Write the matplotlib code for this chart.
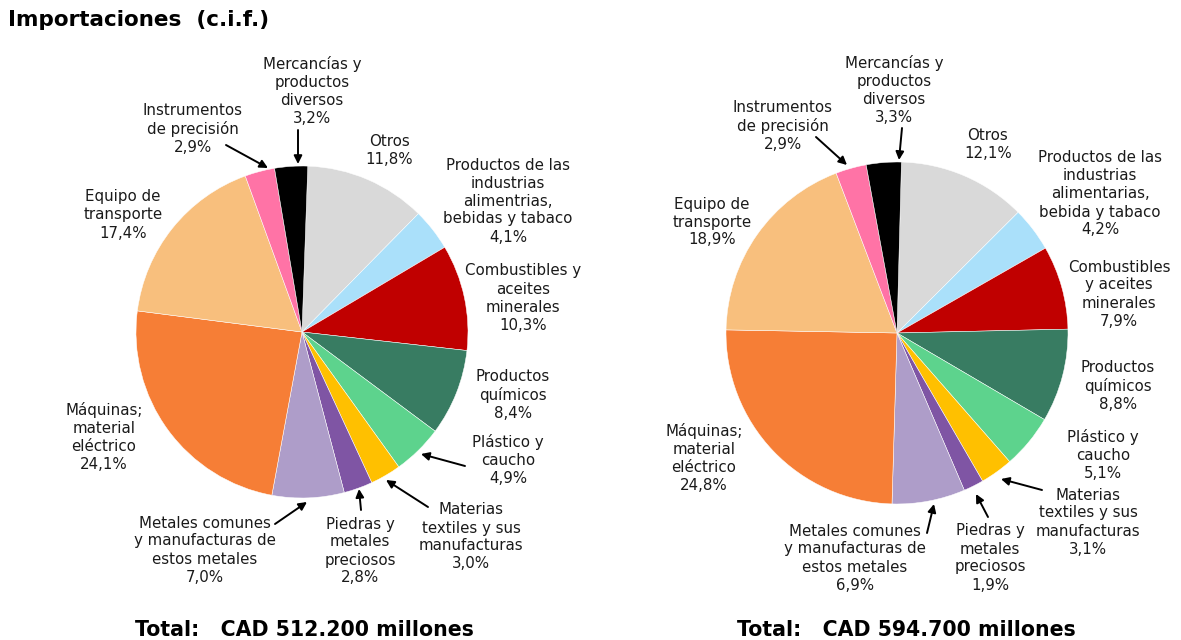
import matplotlib
matplotlib.use("Agg")
import matplotlib.pyplot as plt

# orden: en el sentido de las agujas del reloj desde arriba
categorias = ["Otros", "Alimentarias", "Combustibles", "Químicos", "Plástico",
              "Textiles", "Piedras", "Metales", "Máquinas", "Transporte",
              "Instrumentos", "Mercancías"]
valores_izq = [11.8, 4.1, 10.3, 8.4, 4.9, 3.0, 2.8, 7.0, 24.1, 17.4, 2.9, 3.2]
valores_der = [12.1, 4.2, 7.9, 8.8, 5.1, 3.1, 1.9, 6.9, 24.8, 18.9, 2.9, 3.3]
etiquetas_izq = [
    "Otros", "Productos de las\nindustrias\nalimentrias,\nbebidas y tabaco",
    "Combustibles y\naceites\nminerales", "Productos\nquímicos", "Plástico y\ncaucho",
    "Materias\ntextiles y sus\nmanufacturas", "Piedras y\nmetales\npreciosos",
    "Metales comunes\ny manufacturas de\nestos metales", "Máquinas;\nmaterial\neléctrico",
    "Equipo de\ntransporte", "Instrumentos\nde precisión", "Mercancías y\nproductos\ndiversos",
]
etiquetas_der = [
    "Otros", "Productos de las\nindustrias\nalimentarias,\nbebida y tabaco",
    "Combustibles\ny aceites\nminerales", "Productos\nquímicos", "Plástico y\ncaucho",
    "Materias\ntextiles y sus\nmanufacturas", "Piedras y\nmetales\npreciosos",
    "Metales comunes\ny manufacturas de\nestos metales", "Máquinas;\nmaterial\neléctrico",
    "Equipo de\ntransporte", "Instrumentos\nde precisión", "Mercancías y\nproductos\ndiversos",
]
total_izq = "Total:   CAD 512.200 millones"
total_der = "Total:   CAD 594.700 millones"

colores = ["#D9D9D9", "#AAE0FA", "#C00000", "#387C62", "#5DD38D", "#FFC000",
           "#7F55A4", "#AE9DC9", "#F67E36", "#F8BF7D", "#FF73A6", "#000000"]

# posiciones de etiquetas (px, desde arriba) y flechas (desde, hasta)
pos_izq = [(389, 151), (508, 201), (523, 298), (513, 395), (508, 460), (471, 537),
           (360, 551), (205, 550), (104, 437), (123, 215), (193, 129), (312, 91)]
flechas_izq = {4: ((465, 466), (421, 454)), 5: ((428, 507), (386, 480)),
               6: ((361, 510), (359, 489)), 7: ((275, 524), (307, 502)),
               10: ((226, 145), (268, 168)), 11: ((298, 130), (298, 164))}
pos_der = [(988, 145), (1100, 194), (1119, 294), (1118, 386), (1103, 455), (1088, 522),
           (990, 558), (855, 558), (704, 458), (712, 222), (783, 126), (894, 90)]
flechas_der = {5: ((1042, 490), (1001, 479)), 6: ((988, 517), (976, 494)),
               7: ((927, 533), (934, 504)), 10: ((816, 137), (847, 165)),
               11: ((902, 128), (899, 160))}

W, H = 1181, 640
fig = plt.figure(figsize=(W / 100, H / 100), dpi=100)
ax = fig.add_axes([0, 0, 1, 1])

pies = [
    (valores_izq, etiquetas_izq, (302, 332), 166, 88, pos_izq, flechas_izq, total_izq, 304),
    (valores_der, etiquetas_der, (897, 333), 171, 88.5, pos_der, flechas_der, total_der, 906),
]
fs = 10.8
for vals, labs, (cx, cy), r, ang, pos, flechas, total, tx in pies:
    ax.pie(vals, colors=colores, center=(cx, H - cy), radius=r, startangle=ang,
           counterclock=False, wedgeprops=dict(edgecolor="white", linewidth=0.35))
    for v, lab, (px, py) in zip(vals, labs, pos):
        txt = lab + "\n" + f"{v:.1f}%".replace(".", ",")
        ax.text(px, H - py, txt, ha="center", va="center", fontsize=fs,
                linespacing=1.25, color="#1a1a1a")
    for i, ((x0, y0), (x1, y1)) in flechas.items():
        ax.annotate("", xy=(x1, H - y1), xytext=(x0, H - y0),
                    arrowprops=dict(arrowstyle="-|>", color="black", lw=1.4,
                                    mutation_scale=12, shrinkA=0, shrinkB=0))
    ax.text(tx, H - 630, total, ha="center", va="center",
            fontsize=14.8, fontweight="bold")

ax.text(8, H - 20, "Importaciones  (c.i.f.)", ha="left", va="center",
        fontsize=15.5, fontweight="bold")

ax.set_xlim(0, W)
ax.set_ylim(0, H)
ax.set_aspect("equal")
ax.axis("off")

fig.savefig("out.png", dpi=100, facecolor="white")
